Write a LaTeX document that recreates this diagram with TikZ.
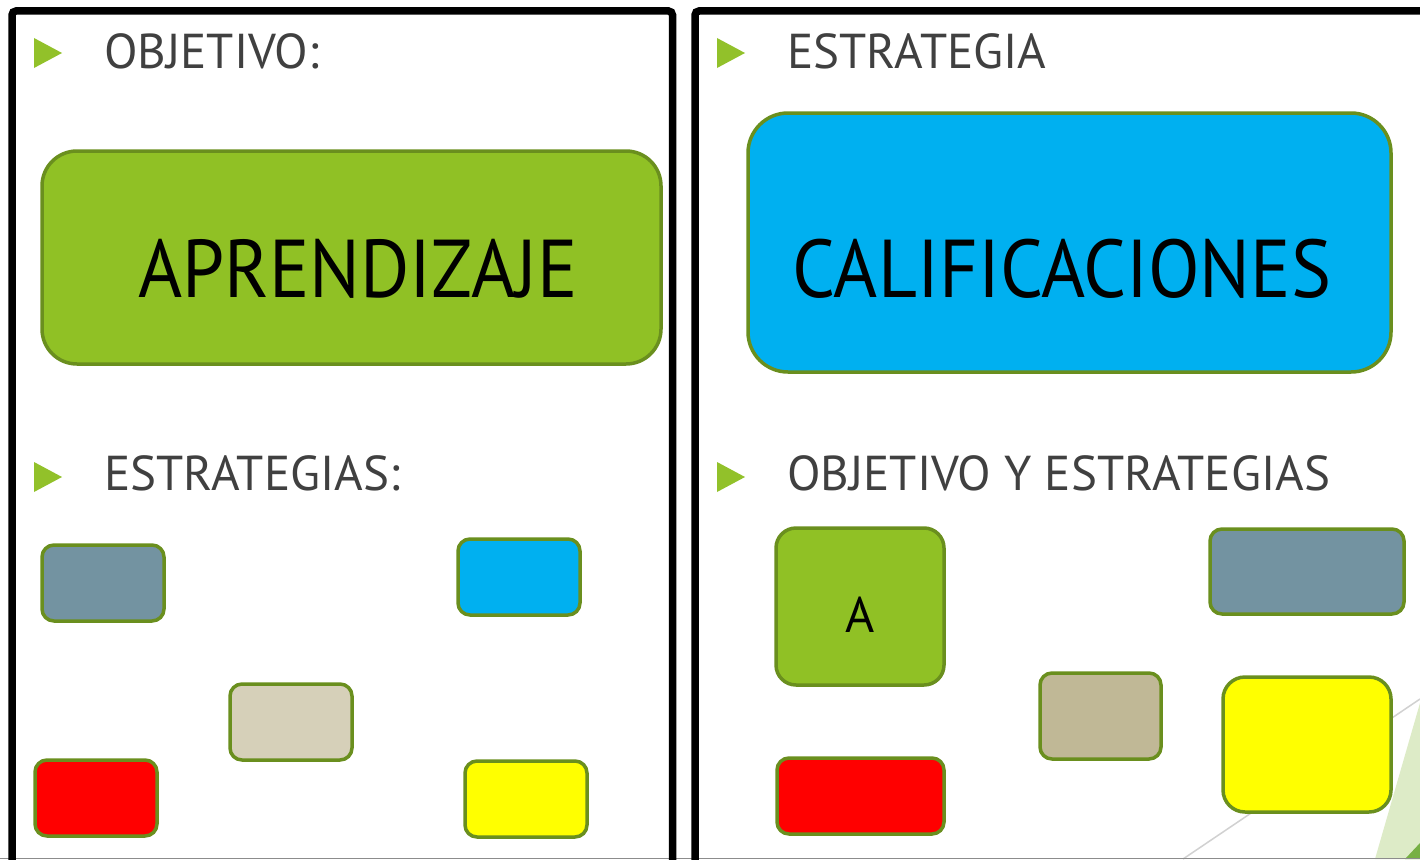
\documentclass[tikz,border=0pt]{standalone}
\usepackage{fontspec}
\setmainfont{PT Sans}
\newfontfamily\narrowfont[FakeStretch=0.92]{PT Sans}
\usetikzlibrary{shapes.misc}

\definecolor{headgray}{HTML}{404040}
\definecolor{bulletgreen}{HTML}{92C12A}
\definecolor{boxborder}{HTML}{6A8F1E}
\definecolor{boxgreen}{HTML}{90C125}
\definecolor{boxblue}{HTML}{00B0F0}
\definecolor{boxgray}{HTML}{7393A1}
\definecolor{boxbeige}{HTML}{D6D0B9}
\definecolor{boxtan}{HTML}{C0B896}
\definecolor{boxred}{HTML}{FF0000}
\definecolor{boxyellow}{HTML}{FFFF00}
\definecolor{cornerlight}{HTML}{DDEBC7}
\definecolor{cornerdark}{HTML}{77B044}

\begin{document}
\begin{tikzpicture}[x=1pt, y=-1pt]
\tikzset{
   panel/.style = {draw, line width = 7.5pt, rounded corners = 4pt},
   heading/.style = {anchor = base west, inner sep = 0pt, text = headgray, font = \fontsize{49}{60}\selectfont},
   bullet/.style = {fill = bulletgreen},
   box/.style = {rectangle, draw = boxborder, line width = 3.5pt, rounded corners = 12pt, inner sep = 0pt},
   small_box/.style = {box, minimum width = 122pt, minimum height = 76pt},
   big_box/.style = {box, text = black, text depth = 0pt, font = \narrowfont\fontsize{82}{90}\selectfont}
}
  \clip (0,0) rectangle (1420,859);
  \fill[white] (0,0) rectangle (1420,859);

  % corner decoration
  \draw[black!18, line width = 1.5pt] (1183,859) -- (1420,699);
  \fill[cornerlight] (1375,859) -- (1420,703) -- (1420,859) -- cycle;
  \fill[cornerdark] (1405,859) -- (1420,843) -- (1420,859) -- cycle;
  \draw[black!45, line width = 1pt] (0,858.5) -- (1420,858.5);

  % panels
  \draw[panel] (12,900) -- (12,11) -- (672.5,11) -- (672.5,900);
  \draw[panel] (695,900) -- (695,11) -- (1440,11);

  % left panel
  \fill[bullet] (34,38) -- (62,53) -- (34,68) -- cycle;
  \node[heading] (objetivo) at (104,68) {OBJETIVO:};
  \node[big_box, fill = boxgreen, rounded corners = 35pt, minimum width = 619pt, minimum height = 213pt,
        text height = 79pt] (aprendizaje) at (351.5,257.5) {\hspace{13pt}APRENDIZAJE};

  \fill[bullet] (34,462) -- (62,477) -- (34,492) -- cycle;
  \node[heading] (estrategias) at (104,490) {ESTRATEGIAS:};

  \node[small_box, fill = boxgray] (l_gray) at (103,583) {};
  \node[small_box, fill = boxblue] (l_blue) at (519,577) {};
  \node[small_box, fill = boxbeige] (l_beige) at (291,722) {};
  \node[small_box, fill = boxred] (l_red) at (96,798) {};
  \node[small_box, fill = boxyellow] (l_yellow) at (526,799) {};

  % right panel
  \fill[bullet] (717,38) -- (745,53) -- (717,68) -- cycle;
  \node[heading] (estrategia) at (787,68) {ESTRATEGIA};
  \node[big_box, fill = boxblue, rounded corners = 40pt, minimum width = 643pt, minimum height = 259pt,
        text height = 109pt] (calificaciones) at (1069.5,242.5) {\hspace{-15pt}CALIFICACIONES};

  \fill[bullet] (717,462) -- (745,477) -- (717,492) -- cycle;
  \node[heading] (obj_estrategias) at (787,490) {OBJETIVO Y ESTRATEGIAS};

  \node[box, fill = boxgreen, rounded corners = 20pt, minimum width = 168pt, minimum height = 157pt,
        text height = 51pt, text depth = 0pt, font = \fontsize{50}{60}\selectfont] (r_a) at (860,606.5) {A};
  \node[box, fill = boxgray, minimum width = 194pt, minimum height = 85pt] (r_gray) at (1307,571.5) {};
  \node[box, fill = boxtan, minimum width = 121pt, minimum height = 86pt] (r_tan) at (1100.5,716) {};
  \node[box, fill = boxred, minimum width = 167pt, minimum height = 76pt] (r_red) at (860.5,796) {};
  \node[box, fill = boxyellow, rounded corners = 22pt, minimum width = 168pt, minimum height = 135pt] (r_yellow) at (1307,744.5) {};

\end{tikzpicture}
\end{document}
